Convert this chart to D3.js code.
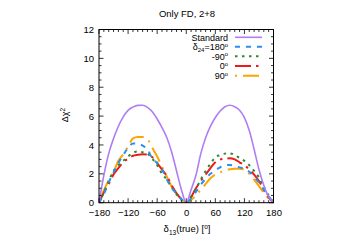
<!DOCTYPE html>
<html><head><meta charset="utf-8">
<script src="https://cdn.jsdelivr.net/npm/d3@7"></script>
<style>
body{margin:0;background:#fff;}
text{font-family:"Liberation Sans",Arial,sans-serif;fill:#000;}
</style></head>
<body><svg id="c" width="349" height="244"></svg>
<script>
const delta = [-180,-170,-160,-150,-140,-130,-120,-110,-100,-90,-80,-70,-60,-50,-40,-30,-20,-10,0,10,20,30,40,50,60,70,80,90,100,110,120,130,140,150,160,170,180];
const standard = [0,1.9,3.4,4.45,5.3,5.95,6.4,6.62,6.74,6.75,6.6,6.3,5.8,5.2,4.5,3.5,2.2,0.9,0,0.9,1.9,3.4,4.5,5.3,5.9,6.35,6.65,6.75,6.65,6.4,5.9,5.0,3.7,2.3,1.2,0.4,0];
const d180 = [0,0.6,1.4,2.1,2.75,3.3,3.8,4.1,4.1,3.95,3.7,3.05,2.75,2.3,1.6,1.05,0.6,0.25,0,0.3,0.75,1.25,1.65,2.0,2.25,2.45,2.6,2.62,2.55,2.45,2.35,2.15,1.8,1.4,0.9,0.45,0];
const dm90 = [0,0.7,1.5,2.2,2.6,2.9,3.2,3.45,3.55,3.5,3.4,3.05,2.6,2.0,1.6,1.05,0.6,0.2,0,0.4,0.95,1.6,2.2,2.7,3.15,3.3,3.4,3.42,3.3,3.1,2.9,2.6,2.2,1.75,1.1,0.5,0];
const d0 = [0,0.7,1.3,1.95,2.4,2.8,3.05,3.25,3.32,3.36,3.33,3.15,2.75,2.3,1.85,1.2,0.65,0.25,0,0.4,1.0,1.5,1.95,2.4,2.8,3.0,3.05,3.08,3.0,2.8,2.6,2.3,1.95,1.5,0.9,0.35,0];
const d90 = [0,0.85,1.55,2.15,2.9,3.35,3.9,4.45,4.55,4.55,4.4,3.8,3.2,2.5,1.8,1.1,0.55,0.2,0,0.2,0.5,0.9,1.3,1.7,1.95,2.1,2.25,2.32,2.35,2.35,2.3,2.0,1.6,1.15,0.7,0.3,0];
const xTicks = [-180,-120,-60,0,60,120,180];
const yTicks = [0,2,4,6,8,10,12];

const svg = d3.select("#c");
const L=99, R=273.5, T=29.5, B=202.7;
const x = d3.scaleLinear().domain([-180,180]).range([L,R]);
const y = d3.scaleLinear().domain([0,12]).range([B,T]);

const series = [
  {name:"Standard", v:standard, color:"#b07ef2", dash:null, w:1.6},
  {name:"d180", v:d180, color:"#2b8fef", dash:"5,6", w:2},
  {name:"dm90", v:dm90, color:"#2a8a2a", dash:"2.5,4.5", w:2},
  {name:"d0", v:d0, color:"#f01818", dash:"16,5,2.5,5", w:2},
  {name:"d90", v:d90, color:"#ffa500", dash:"2,6,16,6", w:2}
];

const line = d3.line().x((d,i)=>x(delta[i])).y(d=>y(d)).curve(d3.curveMonotoneX);
const g = svg.append("g");
g.append("defs").append("clipPath").attr("id","clip").append("rect").attr("x",L).attr("y",T).attr("width",R-L).attr("height",B-T);
series.slice().reverse().forEach(s=>{
  g.append("path").attr("d",line(s.v)).attr("fill","none").attr("stroke",s.color)
   .attr("stroke-width",s.w).attr("stroke-dasharray",s.dash).attr("clip-path","url(#clip)");
});

svg.append("rect").attr("x",L).attr("y",T).attr("width",R-L).attr("height",B-T).attr("fill","none").attr("stroke","#000").attr("stroke-width",1);

const xMinor = d3.range(-180,181,10);
const yMinor = d3.range(0,12.01,0.5);
const tk = svg.append("g").attr("stroke","#000").attr("stroke-width",0.8);
xMinor.forEach(v=>{
  const len = xTicks.includes(v)?4.5:2.5;
  tk.append("line").attr("x1",x(v)).attr("x2",x(v)).attr("y1",B).attr("y2",B-len);
  tk.append("line").attr("x1",x(v)).attr("x2",x(v)).attr("y1",T).attr("y2",T+len);
});
yMinor.forEach(v=>{
  const len = yTicks.includes(v)?4.5:2.5;
  tk.append("line").attr("y1",y(v)).attr("y2",y(v)).attr("x1",L).attr("x2",L+len);
  tk.append("line").attr("y1",y(v)).attr("y2",y(v)).attr("x1",R).attr("x2",R-len);
});

const xa = svg.append("g").attr("transform",`translate(0,${B})`).call(d3.axisBottom(x).tickValues(xTicks).tickSize(0).tickPadding(7).tickFormat(d3.format("d")));
xa.select(".domain").remove();
xa.selectAll("text").attr("font-size",9.5).attr("font-family","Liberation Sans, Arial, sans-serif");
const ya = svg.append("g").attr("transform",`translate(${L},0)`).call(d3.axisLeft(y).tickValues(yTicks).tickSize(0).tickPadding(5));
ya.select(".domain").remove();
ya.selectAll("text").attr("font-size",9.5).attr("font-family","Liberation Sans, Arial, sans-serif");

svg.append("text").attr("x",187).attr("y",17).attr("text-anchor","middle").attr("font-size",9.5).text("Only FD, 2+8");

const xl = svg.append("text").attr("x",187).attr("y",232).attr("text-anchor","middle").attr("font-size",9.5);
xl.append("tspan").text("δ");
xl.append("tspan").attr("font-size",6.5).attr("dy",2.5).text("13");
xl.append("tspan").attr("dy",-2.5).text("(true) [");
xl.append("tspan").attr("font-size",6.5).attr("dy",-3.5).text("o");
xl.append("tspan").attr("dy",3.5).text("]");

const yl = svg.append("text").attr("transform","translate(68,115) rotate(-90)").attr("text-anchor","middle").attr("font-size",9);
yl.append("tspan").text("Δχ");
yl.append("tspan").attr("font-size",6.5).attr("dy",-3.5).text("2");

const legY = [37.3,46.7,56.3,66,75.7];
const tx = 228, lx1 = 235, lx2 = 262;
const labels = [
  t=>t.text("Standard"),
  t=>{t.append("tspan").text("δ");t.append("tspan").attr("font-size",6).attr("dy",1.8).text("24");t.append("tspan").attr("dy",-1.8).text("=180");t.append("tspan").attr("font-size",6).attr("dy",-3.2).text("o");},
  t=>{t.append("tspan").text("-90");t.append("tspan").attr("font-size",6).attr("dy",-3.2).text("o");},
  t=>{t.append("tspan").text("0");t.append("tspan").attr("font-size",6).attr("dy",-3.2).text("o");},
  t=>{t.append("tspan").text("90");t.append("tspan").attr("font-size",6).attr("dy",-3.2).text("o");}
];
series.forEach((s,i)=>{
  const t = svg.append("text").attr("x",tx).attr("y",legY[i]+3.2).attr("text-anchor","end").attr("font-size",9);
  labels[i](t);
  svg.append("line").attr("x1",lx1).attr("x2",lx2).attr("y1",legY[i]).attr("y2",legY[i])
    .attr("stroke",s.color).attr("stroke-width",s.w).attr("stroke-dasharray",s.dash);
});
</script></body></html>
